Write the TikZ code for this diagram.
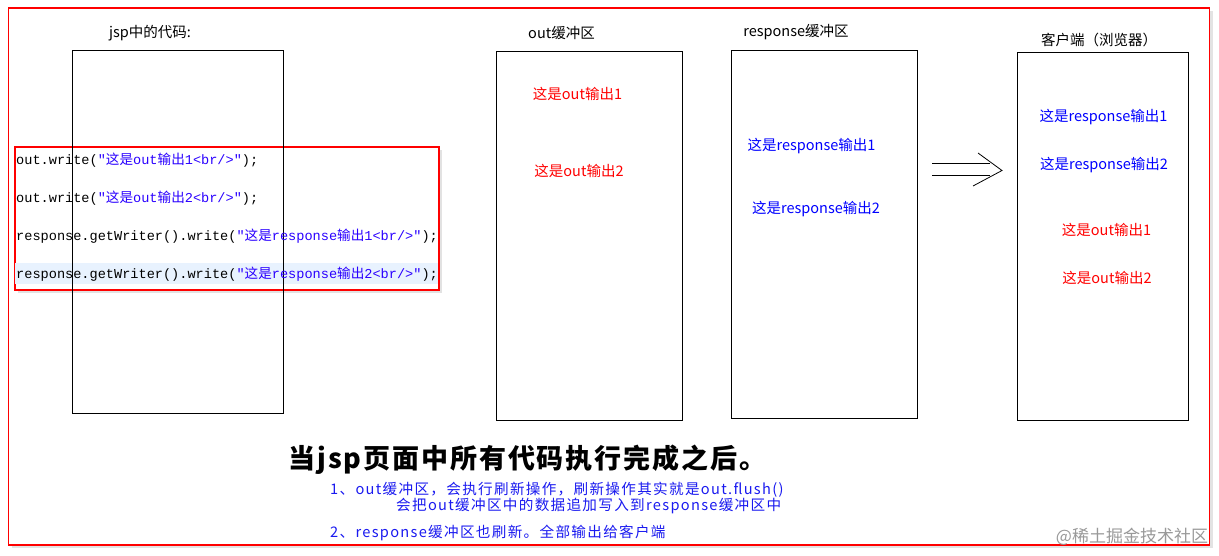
\documentclass[tikz,border=0pt]{standalone}
\usepackage{fontspec}
\setmainfont{Noto Sans CJK SC}
\setmonofont{Liberation Mono}
\newfontfamily\cjk{Noto Sans CJK SC}
\newfontfamily\cjkwide[LetterSpace=9]{Noto Sans CJK SC}
\newfontfamily\cjktitle[LetterSpace=7]{Noto Sans CJK SC}
\usetikzlibrary{shadows}
\definecolor{strblue}{HTML}{2A00FF}
\definecolor{linehl}{HTML}{E8F2FE}
\definecolor{outred}{HTML}{FF0000}
\definecolor{respblue}{HTML}{0000FF}
\definecolor{noteblue}{HTML}{1A1AF0}
\newcommand{\jstr}[1]{\textcolor{strblue}{#1}}

\begin{document}
\begin{tikzpicture}[x=1pt,y=-1pt]
        \tikzstyle{buffer} = [rectangle, draw, line width=1pt, inner sep=0pt]
        \tikzstyle{heading} = [font=\fontsize{14.5}{16}\selectfont]
        \tikzstyle{codeline} = [anchor=west, inner sep=0pt, font=\ttfamily\fontsize{13.6}{15}\selectfont]
        \tikzstyle{outmsg} = [heading, text=outred]
        \tikzstyle{respmsg} = [heading, text=respblue]
        \tikzstyle{note} = [anchor=west, inner sep=0pt, text=noteblue, font=\cjkwide\fontsize{14.6}{16}\selectfont]

        \useasboundingbox (0,0) rectangle (1219,555);
        % outer frame
        \node (frame) [rectangle, draw=red, line width=1.2pt, fill=white, minimum width=1201pt, minimum height=537pt,
            drop shadow={shadow xshift=3pt, shadow yshift=-3pt, fill=black!22}] at (609,276.5) {};

        % code pasted over the jsp box
        \node (codebox) [rectangle, draw=red, line width=1.2pt, fill=white, minimum width=424pt, minimum height=143pt,
            drop shadow={shadow xshift=3pt, shadow yshift=-3pt, fill=black!22}] at (227,218.5) {};
        \node (hlrow) [rectangle, fill=linehl, minimum width=423pt, minimum height=21pt, inner sep=0pt] at (226.5,273.5) {};

        \node (jsp) [buffer, minimum width=211pt, minimum height=363pt] at (177.5,231.5) {};
        \node (outbuf) [buffer, minimum width=186pt, minimum height=369pt] at (589,235.5) {};
        \node (respbuf) [buffer, minimum width=186pt, minimum height=368pt] at (824,234) {};
        \node (client) [buffer, minimum width=171pt, minimum height=368pt] at (1102.5,236) {};

        \node (jsptitle) [heading] at (150,33) {jsp中的代码:};
        \node (outtitle) [heading] at (561.5,33) {out缓冲区};
        \node (resptitle) [heading] at (796,32) {response缓冲区};
        \node (clienttitle) [heading] at (1099,40) {客户端（浏览器）};

        \node (code1) [codeline] at (16,160) {out.write(\jstr{"{\cjk 这是}out{\cjk 输出}1<br/>"});};
        \node (code2) [codeline] at (16,198) {out.write(\jstr{"{\cjk 这是}out{\cjk 输出}2<br/>"});};
        \node (code3) [codeline] at (16,236) {response.getWriter().write(\jstr{"{\cjk 这是}response{\cjk 输出}1<br/>"});};
        \node (code4) [codeline] at (16,274) {response.getWriter().write(\jstr{"{\cjk 这是}response{\cjk 输出}2<br/>"});};

        \node (out1) [outmsg] at (577.5,94) {这是out输出1};
        \node (out2) [outmsg] at (579,171) {这是out输出2};
        \node (resp1) [respmsg] at (811.5,146) {这是response输出1};
        \node (resp2) [respmsg] at (816,209) {这是response输出2};

        \node (cresp1) [respmsg] at (1103.5,117) {这是response输出1};
        \node (cresp2) [respmsg] at (1104,165) {这是response输出2};
        \node (cout1) [outmsg] at (1106.5,230) {这是out输出1};
        \node (cout2) [outmsg] at (1107,278) {这是out输出2};

        % flush arrow
        \coordinate (arrowtail) at (932,169.3);
        \coordinate (shaftend) at (990,169.3);
        \coordinate (arrowtip) at (1002,170.5);
        \draw[double, double distance=10.8pt, line width=0.8pt] (arrowtail) -- (shaftend);
        \draw[line width=0.8pt] (arrowtip) ++(-24,-17.5) -- (arrowtip) -- ++(-29,15.5);

        \node (summary) [font=\cjktitle\bfseries\fontsize{27}{30}\selectfont] at (527.5,460) {当jsp页面中所有代码执行完成之后。};
        \node (step1) [note] at (330,490) {1、out缓冲区，会执行刷新操作，刷新操作其实就是out.flush()};
        \node (step1b) [note] at (396,506) {会把out缓冲区中的数据追加写入到response缓冲区中};
        \node (step2) [note] at (330,533) {2、response缓冲区也刷新。全部输出给客户端};

        \node (mark) [text=black!40, font=\fontsize{17}{18}\selectfont] at (1132,537) {@稀土掘金技术社区};
\end{tikzpicture}
\end{document}
